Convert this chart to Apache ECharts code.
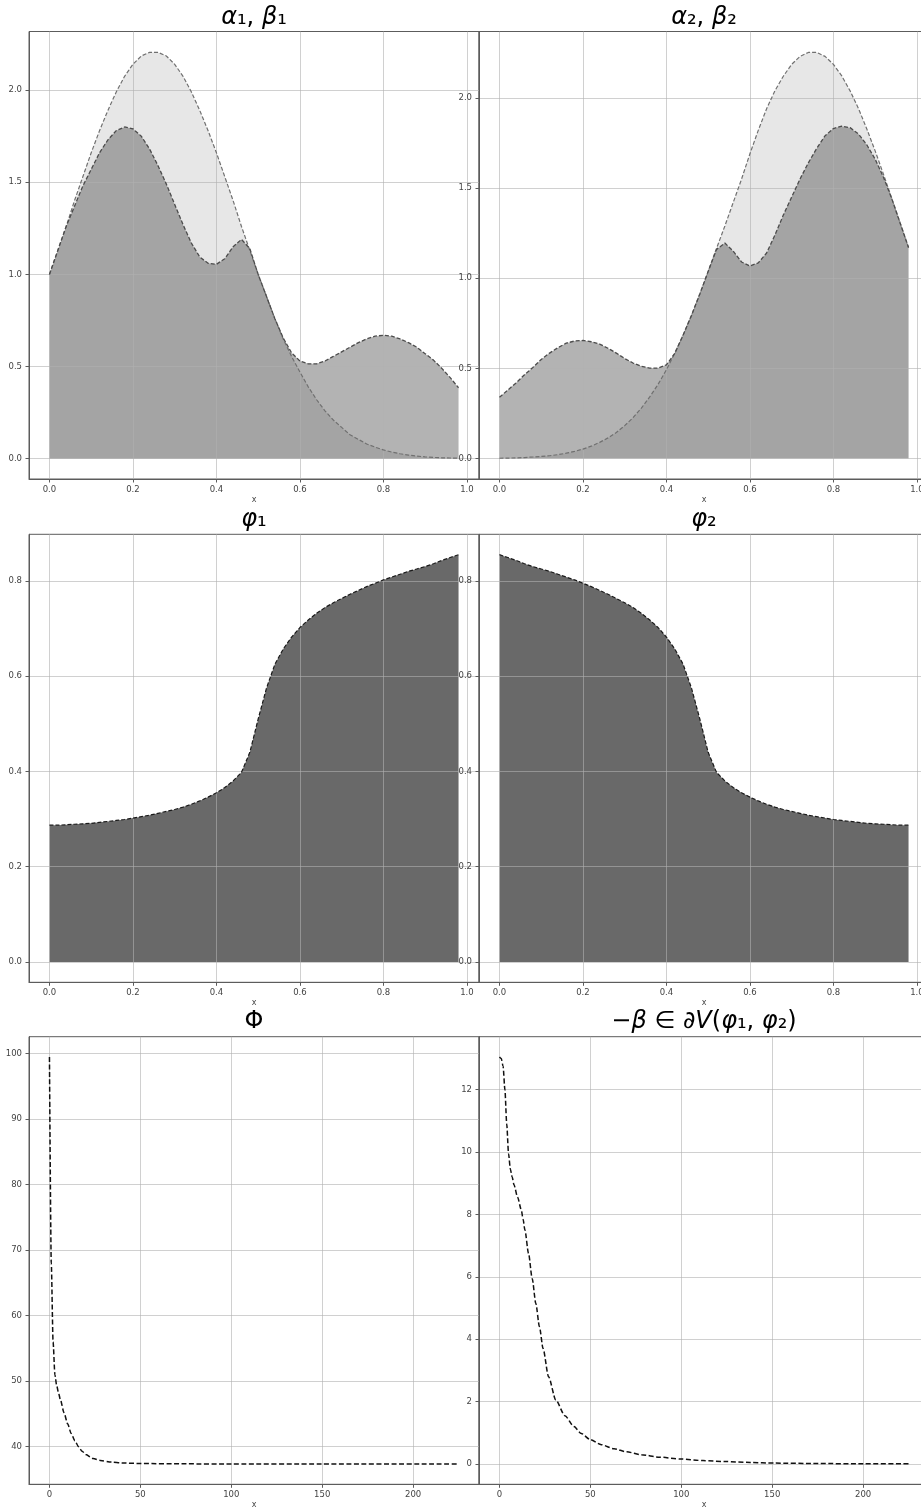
<!DOCTYPE html>
<html>
<head>
<meta charset="utf-8">
<script src="https://cdn.jsdelivr.net/npm/echarts@6/dist/echarts.min.js"></script>
<style>
  html, body { margin: 0; padding: 0; background: #fff; }
  #chart { width: 921px; height: 1510px; }
</style>
</head>
<body>
<div id="chart"></div>
<script>
// x grid of the four upper panels
const xs = [0.00, 0.02, 0.04, 0.06, 0.08, 0.10, 0.12, 0.14, 0.16, 0.18,
  0.20, 0.22, 0.24, 0.26, 0.28, 0.30, 0.32, 0.34, 0.36, 0.38,
  0.40, 0.42, 0.44, 0.46, 0.48, 0.50, 0.52, 0.54, 0.56, 0.58,
  0.60, 0.62, 0.64, 0.66, 0.68, 0.70, 0.72, 0.74, 0.76, 0.78,
  0.80, 0.82, 0.84, 0.86, 0.88, 0.90, 0.92, 0.94, 0.96, 0.98];

const alpha1 = [1.00, 1.13, 1.26, 1.40, 1.53, 1.66, 1.78, 1.89, 1.99, 2.075,
  2.14, 2.185, 2.205, 2.205, 2.185, 2.14, 2.075, 1.99, 1.89, 1.78,
  1.66, 1.53, 1.40, 1.26, 1.13, 1.00, 0.88, 0.76, 0.65, 0.555,
  0.47, 0.39, 0.32, 0.26, 0.21, 0.17, 0.13, 0.105, 0.08, 0.063,
  0.048, 0.036, 0.027, 0.02, 0.014, 0.01, 0.007, 0.005, 0.004, 0.003];
const beta1 = [1.00, 1.13, 1.26, 1.37, 1.48, 1.57, 1.66, 1.73, 1.78, 1.80,
  1.79, 1.75, 1.68, 1.59, 1.49, 1.38, 1.27, 1.17, 1.095, 1.06,
  1.055, 1.085, 1.15, 1.19, 1.14, 1.00, 0.88, 0.76, 0.655, 0.575,
  0.53, 0.515, 0.515, 0.53, 0.555, 0.58, 0.605, 0.63, 0.65, 0.665,
  0.67, 0.665, 0.65, 0.63, 0.605, 0.57, 0.535, 0.49, 0.44, 0.385];

const alpha2 = [0.002, 0.003, 0.004, 0.006, 0.009, 0.012, 0.016, 0.022, 0.030, 0.040,
  0.053, 0.069, 0.090, 0.115, 0.145, 0.183, 0.227, 0.280, 0.342, 0.412,
  0.493, 0.584, 0.685, 0.794, 0.913, 1.038, 1.165, 1.29, 1.42, 1.55,
  1.69, 1.82, 1.94, 2.04, 2.12, 2.186, 2.23, 2.252, 2.252, 2.23,
  2.186, 2.122, 2.039, 1.941, 1.828, 1.706, 1.576, 1.441, 1.305, 1.17];
const beta2 = [0.34, 0.38, 0.42, 0.465, 0.505, 0.55, 0.585, 0.615, 0.64, 0.652,
  0.655, 0.648, 0.635, 0.612, 0.585, 0.555, 0.53, 0.512, 0.502, 0.502,
  0.52, 0.584, 0.685, 0.794, 0.913, 1.038, 1.16, 1.195, 1.15, 1.09,
  1.068, 1.085, 1.14, 1.24, 1.35, 1.45, 1.55, 1.64, 1.72, 1.79,
  1.83, 1.843, 1.835, 1.80, 1.74, 1.66, 1.56, 1.44, 1.305, 1.17];

const phi1 = [0.287, 0.287, 0.288, 0.289, 0.290, 0.291, 0.293, 0.295, 0.297, 0.299,
  0.302, 0.305, 0.308, 0.312, 0.316, 0.320, 0.325, 0.331, 0.338, 0.346,
  0.355, 0.366, 0.380, 0.398, 0.44, 0.51, 0.575, 0.625, 0.657, 0.682,
  0.702, 0.718, 0.732, 0.744, 0.754, 0.763, 0.772, 0.780, 0.788, 0.795,
  0.802, 0.808, 0.814, 0.820, 0.825, 0.830, 0.836, 0.843, 0.849, 0.855];
const phi2 = [0.855, 0.849, 0.843, 0.836, 0.830, 0.825, 0.820, 0.814, 0.808, 0.802,
  0.795, 0.788, 0.780, 0.772, 0.763, 0.754, 0.744, 0.732, 0.718, 0.702,
  0.682, 0.657, 0.625, 0.575, 0.51, 0.44, 0.398, 0.380, 0.366, 0.355,
  0.346, 0.338, 0.331, 0.325, 0.320, 0.316, 0.312, 0.308, 0.305, 0.302,
  0.299, 0.297, 0.295, 0.293, 0.291, 0.290, 0.289, 0.288, 0.287, 0.287];

// iteration curves (bottom row)
const bigPhiX = [0, 1, 2, 3, 4, 5, 6, 8, 10, 12, 14, 16, 18, 20, 24, 28, 34, 40, 50, 75, 100, 150, 225];
const bigPhiY = [99.5, 68, 56, 51, 49.3, 48.2, 47.2, 45.2, 43.5, 42.0, 40.9, 40.0, 39.3, 38.8,
  38.2, 37.9, 37.65, 37.52, 37.43, 37.38, 37.37, 37.36, 37.36];
const negBetaX = [0, 1, 2, 3, 4, 5, 6, 7, 8, 10, 12, 13, 14, 16, 18, 20, 22, 24, 27, 31, 36, 41, 45,
  50, 56, 63, 70, 78, 88, 100, 112, 124, 138, 151, 175, 200, 225];
const negBetaY = [13.05, 13.0, 12.75, 12.0, 10.9, 9.95, 9.45, 9.2, 8.95, 8.55, 8.15, 7.85, 7.5,
  6.75, 5.95, 5.15, 4.4, 3.7, 2.8, 2.05, 1.55, 1.2, 0.98,
  0.78, 0.62, 0.49, 0.39, 0.30, 0.22, 0.16, 0.11, 0.08, 0.05, 0.03, 0.015, 0.008, 0.005];

// tick labels
const ticksUnit = [0, 0.2, 0.4, 0.6, 0.8, 1.0];
const ticksAB = [0, 0.5, 1.0, 1.5, 2.0];
const ticksPhi = [0, 0.2, 0.4, 0.6, 0.8];
const ticksIter = [0, 50, 100, 150, 200];
const ticksBigPhi = [40, 50, 60, 70, 80, 90, 100];
const ticksNegBeta = [0, 2, 4, 6, 8, 10, 12];

const pairs = (x, y) => x.map((v, i) => [v, y[i]]);

const spine = "#5c5c5c";
const tickFont = { fontSize: 8.5, color: "#444", fontFamily: "DejaVu Sans" };

function makeX(gi, min, max, ticks, dec) {
  const step = ticks[1] - ticks[0];
  return {
    type: "value", gridIndex: gi, min: min, max: max, z: 3,
    minInterval: step, maxInterval: step,
    name: "x", nameLocation: "middle", nameGap: 17,
    nameTextStyle: { fontSize: 8, color: "#444", fontFamily: "DejaVu Sans" },
    axisLine: { show: true, onZero: false, lineStyle: { color: spine, width: 1 } },
    axisTick: { show: true, length: 3.5, customValues: ticks, lineStyle: { color: spine } },
    axisLabel: Object.assign({ customValues: ticks, margin: 6, formatter: (v) => v.toFixed(dec) }, tickFont),
    splitLine: { show: true, lineStyle: { color: "#b0b0b0", opacity: 0.6, width: 1 } },
  };
}

function makeY(gi, min, max, ticks, dec) {
  const step = ticks[1] - ticks[0];
  return {
    type: "value", gridIndex: gi, min: min, max: max, z: 3,
    minInterval: step, maxInterval: step,
    axisLine: { show: true, onZero: false, lineStyle: { color: spine, width: 1 } },
    axisTick: { show: true, length: 3.5, customValues: ticks, lineStyle: { color: spine } },
    axisLabel: Object.assign({ customValues: ticks, margin: 7, formatter: (v) => v.toFixed(dec) }, tickFont),
    splitLine: { show: true, lineStyle: { color: "#b0b0b0", opacity: 0.6, width: 1 } },
  };
}

function area(gi, x, y, color, opacity) {
  return {
    type: "line", xAxisIndex: gi, yAxisIndex: gi, data: pairs(x, y),
    showSymbol: false, silent: true, z: 1,
    lineStyle: { width: 0 },
    areaStyle: { color: color, opacity: opacity },
  };
}

function curve(gi, x, y, color, width, dash, smooth) {
  return {
    type: "line", xAxisIndex: gi, yAxisIndex: gi, data: pairs(x, y),
    showSymbol: false, silent: true, z: 5,
    smooth: smooth || false, smoothMonotone: "x",
    lineStyle: { color: color, width: width, type: dash },
  };
}

const gridBase = { show: true, borderColor: spine, borderWidth: 1, backgroundColor: "rgba(0,0,0,0)", outerBoundsMode: "none" };
const grids = [
  { left: 29, top: 31.5, width: 450, height: 447.5 },
  { left: 479, top: 31.5, width: 450, height: 447.5 },
  { left: 29, top: 534.3, width: 450, height: 448 },
  { left: 479, top: 534.3, width: 450, height: 448 },
  { left: 29, top: 1036.7, width: 450, height: 447.6 },
  { left: 479, top: 1036.7, width: 450, height: 447.6 },
].map((g) => Object.assign({}, gridBase, g));

const rich = {
  i: { fontSize: 24, fontFamily: "DejaVu Sans", fontStyle: "italic", fill: "#000" },
  r: { fontSize: 24, fontFamily: "DejaVu Sans", fill: "#000" },
};
function title(x, y, text) {
  return {
    type: "text", x: x, y: y, silent: true,
    style: { text: text, align: "center", verticalAlign: "middle", fontSize: 24, fontFamily: "DejaVu Sans", fill: "#000", rich: rich },
  };
}

var myChart = echarts.init(document.getElementById("chart"));
myChart.setOption({
  animation: false,
  backgroundColor: "#fff",
  grid: grids,
  xAxis: [
    makeX(0, -0.049, 1.029, ticksUnit, 1),
    makeX(1, -0.049, 1.029, ticksUnit, 1),
    makeX(2, -0.049, 1.029, ticksUnit, 1),
    makeX(3, -0.049, 1.029, ticksUnit, 1),
    makeX(4, -11.25, 236.25, ticksIter, 0),
    makeX(5, -11.25, 236.25, ticksIter, 0),
  ],
  yAxis: [
    makeY(0, -0.110, 2.318, ticksAB, 1),
    makeY(1, -0.113, 2.368, ticksAB, 1),
    makeY(2, -0.0428, 0.8978, ticksPhi, 1),
    makeY(3, -0.0428, 0.8978, ticksPhi, 1),
    makeY(4, 34.26, 102.6, ticksBigPhi, 0),
    makeY(5, -0.65, 13.70, ticksNegBeta, 0),
  ],
  graphic: [
    title(254, 18, "{i|α}{r|₁, }{i|β}{r|₁}"),
    title(704, 18, "{i|α}{r|₂, }{i|β}{r|₂}"),
    title(254, 520, "{i|φ}{r|₁}"),
    title(704, 520, "{i|φ}{r|₂}"),
    title(254, 1022, "{r|Φ}"),
    title(704, 1022, "{r|−}{i|β}{r| ∈ ∂}{i|V}{r|(}{i|φ}{r|₁, }{i|φ}{r|₂)}"),
  ],
  series: [
    area(0, xs, alpha1, "#3c3c3c", 0.12),
    area(0, xs, beta1, "#3c3c3c", 0.39),
    curve(0, xs, alpha1, "#707070", 1.2, [4, 2]),
    curve(0, xs, beta1, "#4c4c4c", 1.3, [4, 2]),
    area(1, xs, alpha2, "#3c3c3c", 0.12),
    area(1, xs, beta2, "#3c3c3c", 0.39),
    curve(1, xs, alpha2, "#707070", 1.2, [4, 2]),
    curve(1, xs, beta2, "#4c4c4c", 1.3, [4, 2]),
    area(2, xs, phi1, "#696969", 1),
    curve(2, xs, phi1, "#1a1a1a", 1.2, [4, 2]),
    area(3, xs, phi2, "#696969", 1),
    curve(3, xs, phi2, "#1a1a1a", 1.2, [4, 2]),
    curve(4, bigPhiX, bigPhiY, "#111", 1.5, [5, 2.5], 0.25),
    curve(5, negBetaX, negBetaY, "#111", 1.5, [5, 2.5], 0.25),
  ],
});
</script>
</body>
</html>
